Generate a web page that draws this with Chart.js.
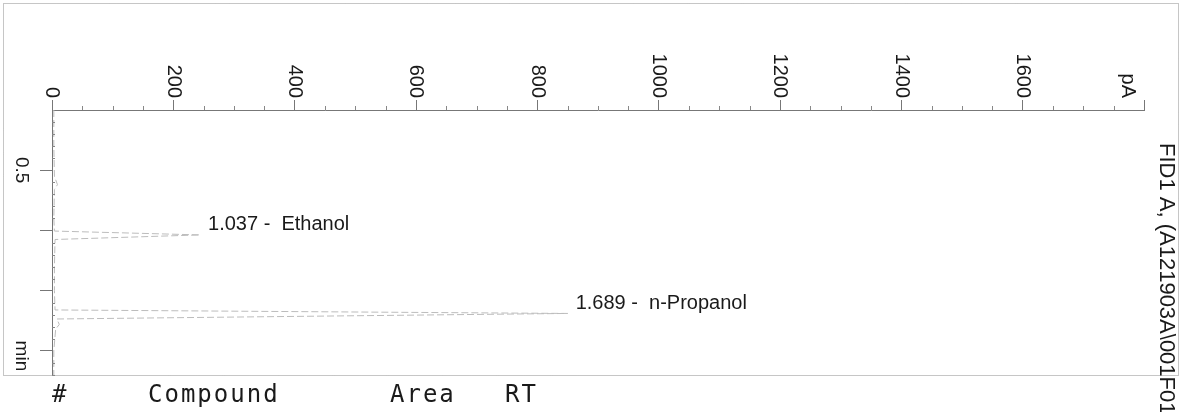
<!DOCTYPE html>
<html>
<head>
<meta charset="utf-8">
<script src="https://cdn.jsdelivr.net/npm/chart.js@4"></script>
<style>
  html, body { margin: 0; padding: 0; background: #fff; }
  #wrap { width: 1184px; height: 412px; position: relative; }
</style>
</head>
<body>
<div id="wrap"><canvas id="fid"></canvas></div>
<script>
// FID trace: retention time (min) against detector signal (pA)
const timeMin  = [0.00, 0.30, 0.55, 0.62, 0.66, 0.90, 1.005, 1.037, 1.075, 1.30, 1.50, 1.660, 1.689, 1.735, 1.78, 1.82, 2.00, 2.20];
const signalPA = [3,    3,    4,    9,    4,    3,    4,     244,   5,     4,    4,    5,     850,   8,     12,   6,    3,    3];

// integrated peaks
const peakRT     = [1.037, 1.689];
const peakNames  = ['Ethanol', 'n-Propanol'];
const peakHeight = [244, 850];

// axes
const xTicks      = [0, 200, 400, 600, 800, 1000, 1200, 1400, 1600, 1800];
const xTickLabels = ['0', '200', '400', '600', '800', '1000', '1200', '1400', '1600', 'pA'];
const xMinorStep  = 50;
const yTicks      = [0.5, 1.0, 1.5, 2.0];
const yTickLabels = ['0.5', '', '', 'min'];
const yMinorStep  = 0.1;

const signalTitle = 'FID1 A, (A121903A\\001F01';
const tableHeader = ['#', 'Compound', 'Area', 'RT'];

const sans = '"Liberation Sans", Arial, sans-serif';

const decorations = {
  id: 'decorations',
  beforeDraw(chart) {
    const ctx = chart.ctx;
    ctx.save();
    ctx.strokeStyle = '#8c8c8c';
    ctx.lineWidth = 1;
    ctx.setLineDash([1, 1]);
    ctx.strokeRect(3.5, 3.5, 1175, 372);
    ctx.restore();
  },
  afterDraw(chart) {
    const { ctx, chartArea, scales: { x, y } } = chart;
    ctx.save();

    // minor ticks
    ctx.strokeStyle = '#888';
    ctx.lineWidth = 1;
    for (let v = 0; v <= x.max; v += xMinorStep) {
      if (xTicks.includes(v)) continue;
      const px = Math.round(x.getPixelForValue(v)) + 0.5;
      ctx.beginPath();
      ctx.moveTo(px, chartArea.top - 4);
      ctx.lineTo(px, chartArea.top);
      ctx.stroke();
    }
    for (let i = 1; i * yMinorStep <= y.max; i++) {
      if (i % 5 === 0) continue;
      const py = Math.round(y.getPixelForValue(i * yMinorStep)) + 0.5;
      ctx.beginPath();
      ctx.moveTo(chartArea.left, py);
      ctx.lineTo(chartArea.left + 3, py);
      ctx.stroke();
    }

    // pA tick labels, turned a quarter clockwise
    ctx.fillStyle = '#1a1a1a';
    ctx.font = '20px ' + sans;
    xTicks.forEach((v, i) => {
      const last = i === xTicks.length - 1;
      ctx.save();
      ctx.translate(x.getPixelForValue(v) - (last ? 16 : 0), chartArea.top - 12);
      ctx.rotate(Math.PI / 2);
      ctx.textAlign = 'right';
      ctx.textBaseline = 'middle';
      ctx.fillText(xTickLabels[i], 0, 0);
      ctx.restore();
    });

    // time tick labels
    ctx.font = '19px ' + sans;
    yTicks.forEach((v, i) => {
      if (!yTickLabels[i]) return;
      ctx.save();
      ctx.translate(21, y.getPixelForValue(v) + (i === yTicks.length - 1 ? 5 : 0));
      ctx.rotate(Math.PI / 2);
      ctx.textAlign = 'center';
      ctx.textBaseline = 'middle';
      ctx.fillText(yTickLabels[i], 0, 0);
      ctx.restore();
    });

    // peak annotations
    ctx.font = '20px ' + sans;
    ctx.textAlign = 'left';
    ctx.textBaseline = 'middle';
    peakRT.forEach((rt, i) => {
      const px = x.getPixelForValue(peakHeight[i]) + 8;
      const py = y.getPixelForValue(rt) - 10;
      ctx.fillText(rt.toFixed(3) + ' -  ' + peakNames[i], px, py);
    });

    // signal description on the right
    ctx.save();
    ctx.font = '22px ' + sans;
    ctx.translate(1160, 143);
    ctx.rotate(Math.PI / 2);
    ctx.textAlign = 'left';
    ctx.textBaseline = 'alphabetic';
    ctx.fillText(signalTitle, 0, 0);
    ctx.restore();

    // report table header
    ctx.font = '24px "DejaVu Sans Mono", monospace';
    ctx.letterSpacing = '2px';
    ctx.textBaseline = 'alphabetic';
    const colX = [52, 148, 390, 505];
    tableHeader.forEach((h, i) => ctx.fillText(h, colX[i], 402));

    ctx.restore();
  }
};

new Chart(document.getElementById('fid'), {
  type: 'scatter',
  data: {
    datasets: [{
      label: 'FID1 A',
      data: timeMin.map((t, i) => ({ x: signalPA[i], y: t })),
      showLine: true,
      borderColor: '#bcbcbc',
      borderWidth: 1,
      borderDash: [7, 3],
      pointRadius: 0,
      tension: 0
    }]
  },
  options: {
    responsive: true,
    maintainAspectRatio: false,
    animation: false,
    layout: { padding: { top: 100, left: 40, right: 40, bottom: 37 } },
    plugins: { legend: { display: false }, tooltip: { enabled: false } },
    scales: {
      x: {
        type: 'linear',
        position: 'top',
        min: 0,
        max: 1800,
        afterBuildTicks: s => { s.ticks = xTicks.map(v => ({ value: v })); },
        ticks: { display: false },
        grid: { drawOnChartArea: false, tickLength: 10, color: '#777' },
        border: { color: '#777', dash: [2, 1] }
      },
      y: {
        type: 'linear',
        reverse: true,
        min: 0,
        max: 2.2,
        afterBuildTicks: s => { s.ticks = yTicks.map(v => ({ value: v })); },
        ticks: { display: false },
        grid: { drawOnChartArea: false, tickLength: 12, color: '#777' },
        border: { color: '#777', dash: [2, 1] }
      }
    }
  },
  plugins: [decorations]
});
</script>
</body>
</html>
